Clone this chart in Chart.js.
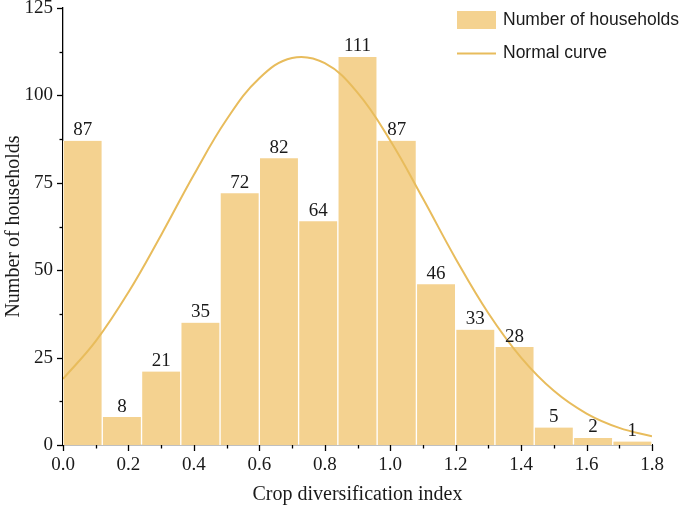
<!DOCTYPE html>
<html lang="en">
<head>
  <meta charset="UTF-8">
  <title>Crop diversification index histogram</title>
  <script src="https://cdn.jsdelivr.net/npm/chart.js"></script>
  <style>
    body { margin: 0; background: #fff; }
    .chart-box { width: 685px; height: 510px; position: relative; }
  </style>
</head>
<body>
  <div class="chart-box">
    <canvas id="histChart" width="685" height="510"></canvas>
  </div>

  <script>
    // bin centres (bin width 0.12) and household counts
    const binCenters = [0.06, 0.18, 0.30, 0.42, 0.54, 0.66, 0.78, 0.90, 1.02, 1.14, 1.26, 1.38, 1.50, 1.62, 1.74];
    const households = [87, 8, 21, 35, 72, 82, 64, 111, 87, 46, 33, 28, 5, 2, 1];

    // normal curve
    const curveX = [0, 0.1, 0.2, 0.3, 0.4, 0.5, 0.6, 0.7, 0.8, 0.9, 1.0, 1.1, 1.2, 1.3, 1.4, 1.5, 1.6, 1.7, 1.8];
    const curveY = [18.9, 29.7, 43.7, 60.1, 77.3, 93.1, 104.9, 110.7, 109.2, 100.8, 87.1, 70.5, 53.3, 37.7, 25.0, 15.5, 9.0, 4.9, 2.5];

    const barColor = '#F4D290';
    const curveColor = '#E8BC5C';
    const serif = '"Liberation Serif", "Times New Roman", serif';
    const sans = '"Liberation Sans", Arial, sans-serif';

    // minor/major ticks drawn outside the axes
    const tickPlugin = {
      id: 'outerTicks',
      afterDraw(chart) {
        const ctx = chart.ctx;
        const area = chart.chartArea;
        const xs = chart.scales.x;
        const ys = chart.scales.y;
        ctx.save();
        ctx.strokeStyle = '#000';
        ctx.lineWidth = 1.3;
        for (let i = 0; i <= 10; i++) {
          const v = i * 12.5;
          const len = i % 2 === 0 ? 6 : 3.5;
          const py = Math.round(ys.getPixelForValue(v)) + 0.5;
          ctx.beginPath();
          ctx.moveTo(area.left, py);
          ctx.lineTo(area.left - len, py);
          ctx.stroke();
        }
        for (let i = 0; i <= 18; i++) {
          const v = i * 0.1;
          const len = i % 2 === 0 ? 6 : 3.5;
          const px = Math.round(xs.getPixelForValue(v)) + 0.5;
          ctx.beginPath();
          ctx.moveTo(px, area.bottom);
          ctx.lineTo(px, area.bottom + len);
          ctx.stroke();
        }
        ctx.restore();
      }
    };

    // count labels above the bars
    const barLabelPlugin = {
      id: 'barLabels',
      afterDatasetsDraw(chart) {
        const ctx = chart.ctx;
        const meta = chart.getDatasetMeta(0);
        ctx.save();
        ctx.font = '19px ' + serif;
        ctx.fillStyle = '#1a1a1a';
        ctx.textAlign = 'center';
        ctx.textBaseline = 'bottom';
        meta.data.forEach((bar, i) => {
          ctx.fillText(String(households[i]), bar.x, bar.y - 1);
        });
        ctx.restore();
      }
    };

    // legend in the top right corner
    const legendPlugin = {
      id: 'cornerLegend',
      afterDraw(chart) {
        const ctx = chart.ctx;
        ctx.save();
        ctx.fillStyle = barColor;
        ctx.fillRect(457, 11, 39, 18);
        ctx.strokeStyle = curveColor;
        ctx.lineWidth = 2;
        ctx.beginPath();
        ctx.moveTo(457, 53.5);
        ctx.lineTo(496, 53.5);
        ctx.stroke();
        ctx.fillStyle = '#1a1a1a';
        ctx.font = '17.5px ' + sans;
        ctx.textBaseline = 'middle';
        ctx.fillText('Number of households', 503, 20);
        ctx.fillText('Normal curve', 503, 53);
        ctx.restore();
      }
    };

    const ctx = document.getElementById('histChart').getContext('2d');
    const histChart = new Chart(ctx, {
      type: 'bar',
      data: {
        datasets: [
          {
            type: 'bar',
            label: 'Number of households',
            data: binCenters.map((x, i) => ({ x: x, y: households[i] })),
            backgroundColor: barColor,
            borderColor: '#ffffff',
            borderWidth: { left: 1, right: 1, top: 0, bottom: 0 },
            barPercentage: 1.0,
            categoryPercentage: 1.0,
            order: 2
          },
          {
            type: 'line',
            label: 'Normal curve',
            data: curveX.map((x, i) => ({ x: x, y: curveY[i] })),
            borderColor: curveColor,
            borderWidth: 2,
            pointRadius: 0,
            fill: false,
            tension: 0.4,
            order: 1
          }
        ]
      },
      options: {
        responsive: false,
        animation: false,
        layout: { padding: { top: 8, right: 33, bottom: 0, left: 0 } },
        plugins: {
          legend: { display: false },
          tooltip: { enabled: false }
        },
        scales: {
          x: {
            type: 'linear',
            min: 0,
            max: 1.8,
            offset: false,
            grid: { display: false, drawTicks: false, offset: false },
            border: { display: true, color: '#000', width: 1.3 },
            ticks: {
              stepSize: 0.2,
              padding: 9,
              color: '#1a1a1a',
              font: { family: serif, size: 19 },
              maxRotation: 0,
              callback: v => v.toFixed(1)
            },
            title: {
              display: true,
              text: 'Crop diversification index',
              color: '#1a1a1a',
              font: { family: serif, size: 20 },
              padding: { top: 0, bottom: 3 }
            },
            afterFit: s => { s.height = 65; s.paddingLeft = 0; s.paddingRight = 0; }
          },
          y: {
            min: 0,
            max: 125,
            grid: { display: false, drawTicks: false },
            border: { display: true, color: '#000', width: 1.3 },
            ticks: {
              stepSize: 25,
              padding: 10,
              color: '#1a1a1a',
              font: { family: serif, size: 19 }
            },
            title: {
              display: true,
              text: 'Number of households',
              color: '#1a1a1a',
              font: { family: serif, size: 20 },
              padding: { top: 2, bottom: 0 }
            },
            afterFit: s => { s.width = 63; s.paddingTop = 0; s.paddingBottom = 0; }
          }
        }
      },
      plugins: [tickPlugin, barLabelPlugin, legendPlugin]
    });
  </script>
</body>
</html>
